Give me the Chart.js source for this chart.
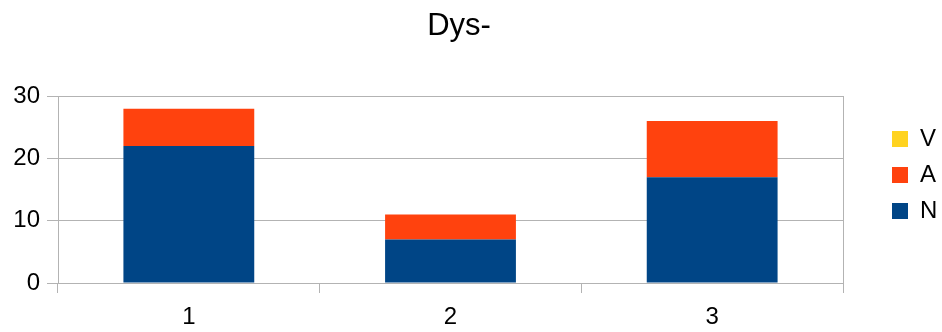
<!DOCTYPE html>
<html>
<head>
<meta charset="utf-8">
<script src="https://cdn.jsdelivr.net/npm/chart.js@4/dist/chart.umd.min.js"></script>
<style>
  html, body { margin: 0; padding: 0; background: #ffffff; }
  #c { display: block; }
</style>
</head>
<body>
<canvas id="c" width="942" height="332"></canvas>
<script>
const chartTitle = "Dys-";
const categories = ["1", "2", "3"];
const seriesN = [22, 7, 17];
const seriesA = [6, 4, 9];
const seriesV = [0, 0, 0];
const yTicks = [0, 10, 20, 30];

const FONT = "'Liberation Sans', Arial, sans-serif";
const GRID = "#b3b3b3";

const titleShift = {
  id: "titleShift",
  afterLayout(chart) {
    if (chart.titleBlock) {
      chart.titleBlock.left = 0;
      chart.titleBlock.right = 918;
    }
  }
};

new Chart(document.getElementById("c"), {
  type: "bar",
  data: {
    labels: categories,
    datasets: [
      { label: "N", data: seriesN, backgroundColor: "#004586", borderWidth: 0 },
      { label: "A", data: seriesA, backgroundColor: "#ff420e", borderWidth: 0 },
      { label: "V", data: seriesV, backgroundColor: "#ffd320", borderWidth: 0 }
    ]
  },
  plugins: [titleShift],
  options: {
    responsive: false,
    animation: false,
    events: [],
    categoryPercentage: 0.5,
    barPercentage: 1.0,
    layout: { padding: { left: 0, top: 0, bottom: 0, right: 0 } },
    plugins: {
      tooltip: { enabled: false },
      title: {
        display: true,
        text: chartTitle,
        color: "#000000",
        font: { family: FONT, size: 31, weight: "normal", lineHeight: 1.2 },
        padding: { top: 8, bottom: 51 }
      },
      legend: {
        display: true,
        position: "right",
        reverse: true,
        maxWidth: 62,
        title: { display: true, text: "", font: { size: 10, lineHeight: 1.2 }, padding: 3 },
        labels: {
          color: "#000000",
          boxWidth: 16,
          boxHeight: 16,
          padding: 12,
          textAlign: "left",
          font: { family: FONT, size: 24 }
        }
      }
    },
    scales: {
      x: {
        stacked: true,
        offset: true,
        grid: { offset: true, drawOnChartArea: false, color: GRID, tickLength: 10 },
        border: { display: true, color: GRID },
        ticks: { color: "#000000", padding: 10, font: { family: FONT, size: 24 }, maxRotation: 0 },
        afterFit: (s) => { s.height = 49; }
      },
      y: {
        stacked: true,
        min: 0,
        max: 30,
        afterBuildTicks: (s) => { s.ticks = yTicks.map(v => ({ value: v })); },
        grid: { color: GRID, tickLength: 11 },
        border: { display: true, color: GRID },
        ticks: { color: "#000000", padding: 7, font: { family: FONT, size: 24 } },
        afterFit: (s) => { s.width = 58; }
      },
      yRight: {
        position: "right",
        display: true,
        min: 0,
        max: 30,
        grid: { display: false },
        border: { display: true, color: GRID },
        ticks: { display: false },
        afterFit: (s) => { s.width = 37; }
      }
    }
  }
});
</script>
</body>
</html>
